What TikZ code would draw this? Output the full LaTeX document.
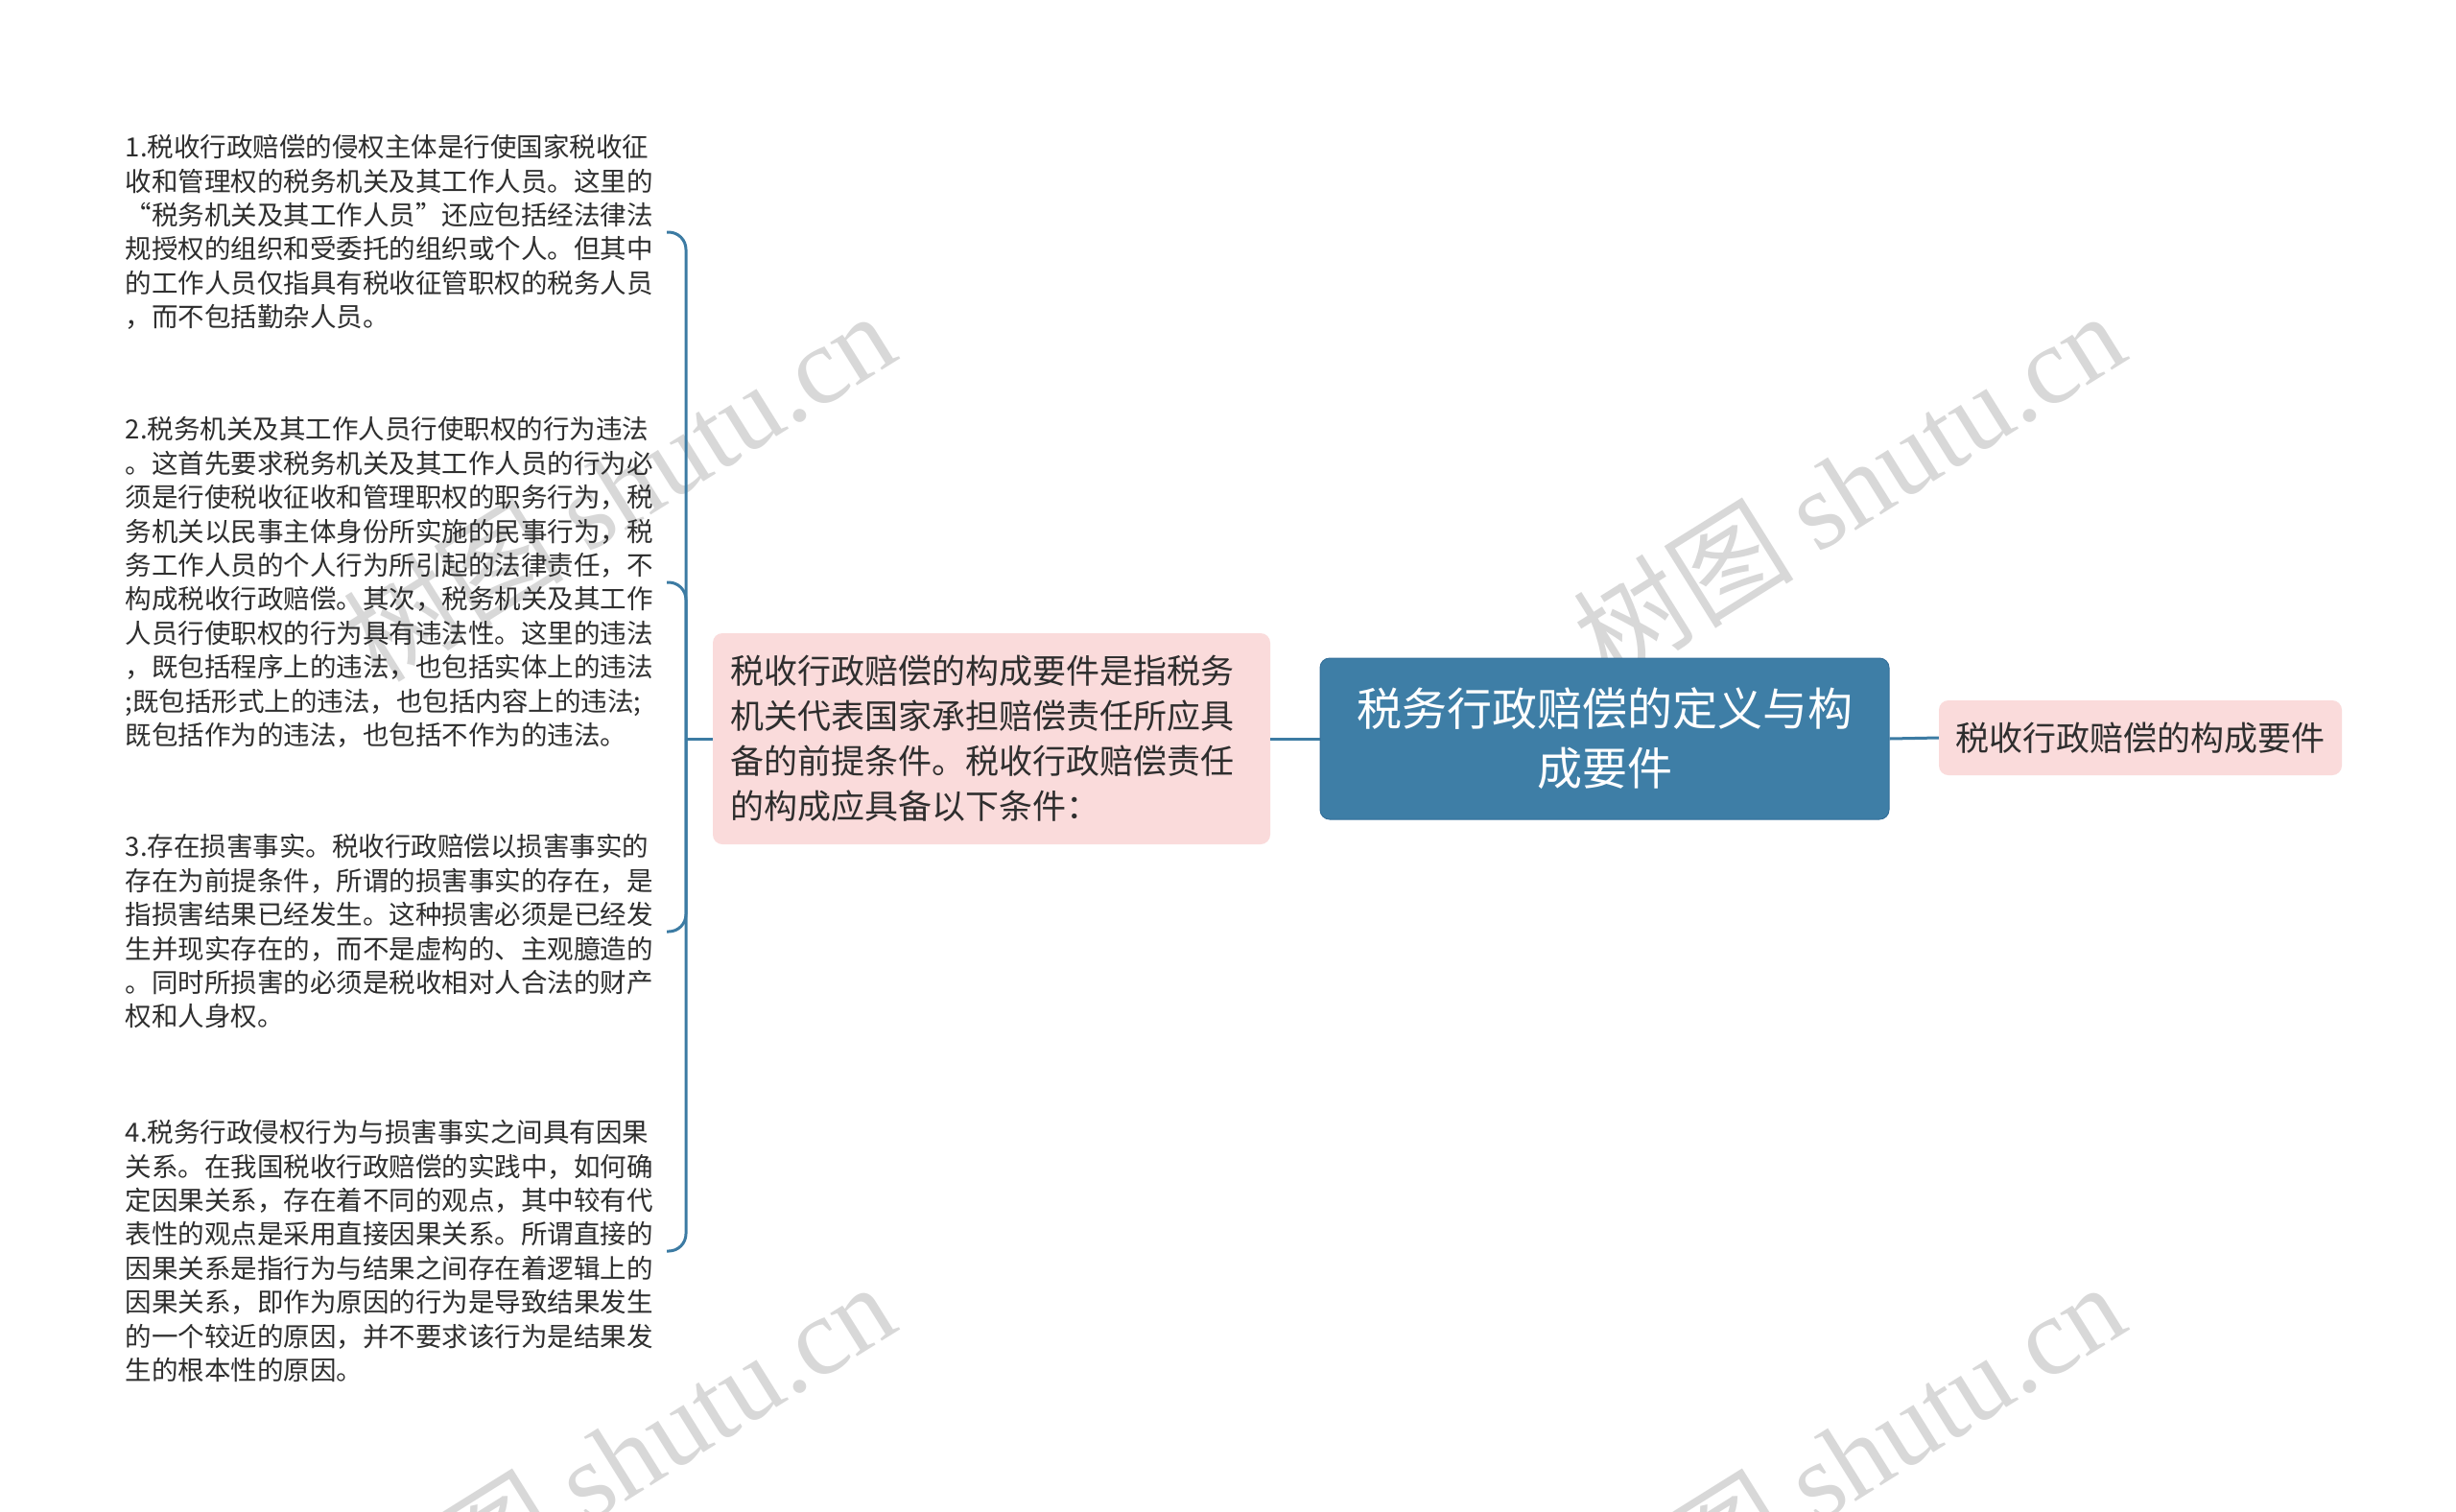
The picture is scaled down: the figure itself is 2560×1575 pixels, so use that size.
\documentclass[tikz,border=0pt]{standalone}
\usepackage{fontspec}
\setmainfont{Noto Sans CJK SC}
\newfontfamily\wmserif{Liberation Serif}
\definecolor{rootblue}{HTML}{3E7EA6}
\definecolor{rootedge}{HTML}{35709A}
\definecolor{linkblue}{HTML}{3C7BA3}
\definecolor{pinkfill}{HTML}{FADBDB}
\definecolor{txt}{HTML}{2E2E2E}
\definecolor{wmgray}{HTML}{D8D8D8}
\tikzset{
  rootbox/.style={draw=rootedge, line width=1pt, fill=rootblue, rounded corners=10pt, text=white,
    minimum width=593pt, minimum height=168pt, text width=540pt, align=center, inner sep=0pt,
    font=\fontsize{47}{62}\selectfont},
  pinkbox/.style={fill=pinkfill, rounded corners=10pt, text=txt, inner sep=0pt},
  leaf/.style={text=txt, text width=548pt, align=left, inner xsep=16pt, inner ysep=0pt,
    anchor=east, font=\fontsize{27.5}{35.4}\selectfont},
  conn/.style={draw=linkblue, line width=3pt},
  wm/.style={text=wmgray, rotate=32, inner sep=0pt, font=\fontsize{115}{115}\selectfont}
}
\begin{document}
\begin{tikzpicture}[x=1pt, y=-1pt]
\useasboundingbox (0,0) rectangle (2560,1575);
\fill[white] (0,0) rectangle (2560,1575);
% watermarks
\node[wm] (w1) at (1927,506) {树图 {\wmserif shutu.cn}};
\node[wm] (w2) at (645,506) {树图 {\wmserif shutu.cn}};
\node[wm] (w3) at (1927,1518) {树图 {\wmserif shutu.cn}};
\node[wm] (w4) at (645,1518) {树图 {\wmserif shutu.cn}};
% nodes
\node[rootbox] (root) at (1672.5,770) {税务行政赔偿的定义与构\\成要件};
\node[pinkbox, minimum width=420pt, minimum height=78pt, font=\fontsize{35}{47}\selectfont] (right) at (2231,769) {税收行政赔偿的构成要件};
\node[pinkbox, minimum width=581pt, minimum height=220pt, text width=545pt, align=left, inner xsep=18pt, font=\fontsize{35}{47}\selectfont] (mid) at (1033.5,770) {税收行政赔偿的构成要件是指税务\\机关代表国家承担赔偿责任所应具\\备的前提条件。税收行政赔偿责任\\的构成应具备以下条件：};
\coordinate (j) at (715,770);
\node[leaf] (c1) at (695,242) {1.税收行政赔偿的侵权主体是行使国家税收征\\收和管理权的税务机关及其工作人员。这里的\\“税务机关及其工作人员”还应包括经法律法\\规授权的组织和受委托的组织或个人。但其中\\的工作人员仅指具有税收征管职权的税务人员\\，而不包括勤杂人员。};
\node[leaf] (c2) at (695,607) {2.税务机关及其工作人员行使职权的行为违法\\。这首先要求税务机关及其工作人员的行为必\\须是行使税收征收和管理职权的职务行为，税\\务机关以民事主体身份所实施的民事行为，税\\务工作人员的个人行为所引起的法律责任，不\\构成税收行政赔偿。其次，税务机关及其工作\\人员行使职权的行为具有违法性。这里的违法\\，既包括程序上的违法，也包括实体上的违法\\;既包括形式上的违法，也包括内容上的违法;\\既包括作为的违法，也包括不作为的违法。};
\node[leaf] (c3) at (695,971) {3.存在损害事实。税收行政赔偿以损害事实的\\存在为前提条件，所谓的损害事实的存在，是\\指损害结果已经发生。这种损害必须是已经发\\生并现实存在的，而不是虚构的、主观臆造的\\。同时所损害的必须是税收相对人合法的财产\\权和人身权。};
\node[leaf] (c4) at (695,1304) {4.税务行政侵权行为与损害事实之间具有因果\\关系。在我国税收行政赔偿的实践中，如何确\\定因果关系，存在着不同的观点，其中较有代\\表性的观点是采用直接因果关系。所谓直接的\\因果关系是指行为与结果之间存在着逻辑上的\\因果关系，即作为原因的行为是导致结果发生\\的一个较近的原因，并不要求该行为是结果发\\生的根本性的原因。};
% connectors
\draw[conn] (root.east) -- (right.west);
\draw[conn] (root.west) -- (mid.east);
\draw[conn] (mid.west) -- (j);
\draw[conn, rounded corners=18pt] (j) |- (c1.east);
\draw[conn, rounded corners=18pt] (j) |- (c2.east);
\draw[conn, rounded corners=18pt] (j) |- (c3.east);
\draw[conn, rounded corners=18pt] (j) |- (c4.east);
\end{tikzpicture}
\end{document}
